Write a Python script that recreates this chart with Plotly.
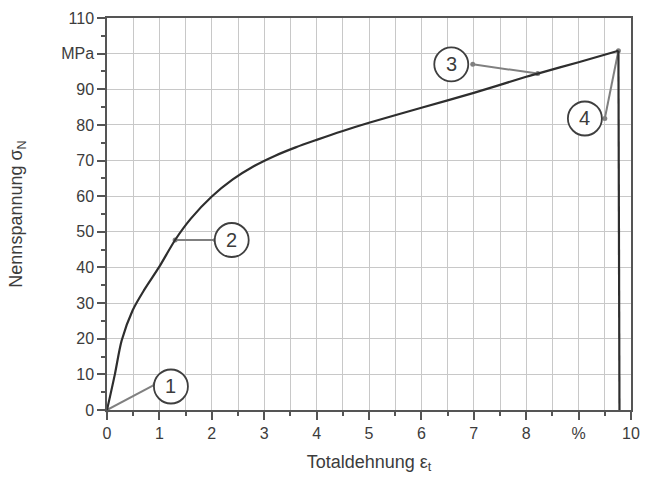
import plotly.graph_objects as go

# Nominal stress-strain curve (total strain in %, nominal stress in MPa);
# the last point is the fracture drop back to zero stress
strain = [0, 0.15, 0.28, 0.49, 0.71, 0.99, 1.30, 1.6, 2.0, 2.4, 2.8, 3.2, 3.6,
          4.0, 4.5, 5.0, 6.0, 7.0, 8.0, 8.22, 9.0, 9.76, 9.78]
stress = [0, 10, 19.5, 28, 33.7, 40, 47.7, 53.7, 59.9, 64.7, 68.4, 71.3, 73.7,
          75.8, 78.3, 80.6, 84.8, 89, 93.5, 94.4, 97.6, 100.8, 0]

# Numbered callouts: point on the curve -> end of leader line -> circle centre
callout_labels = ["1", "2", "3", "4"]
callout_point_x = [0.0, 1.30, 8.22, 9.76]
callout_point_y = [0.0, 47.7, 94.4, 100.8]
callout_end_x = [0.92, 2.07, 6.98, 9.50]
callout_end_y = [7.2, 47.7, 97.0, 81.8]
circle_x = [1.22, 2.38, 6.57, 9.12]
circle_y = [6.6, 47.7, 97.0, 81.8]

# Axis ticks
x_tickvals = [0, 1, 2, 3, 4, 5, 6, 7, 8, 9, 10]
x_ticktext = ["0", "1", "2", "3", "4", "5", "6", "7", "8", "%", "10"]
y_tickvals = [0, 10, 20, 30, 40, 50, 60, 70, 80, 90, 100, 110]
y_ticktext = ["0", "10", "20", "30", "40", "50", "60", "70", "80", "90", "MPa", "110"]

CURVE = "#2e2e2e"
LEADER = "#808080"
AXIS = "#555555"
GRID = "#c8c8c8"
TEXT = "#3c3c3c"
FONT = "Liberation Sans, Arial, sans-serif"

fig = go.Figure()

# leader lines with small dots at both ends
for i in range(len(callout_labels)):
    fig.add_trace(go.Scatter(
        x=[callout_point_x[i], callout_end_x[i]],
        y=[callout_point_y[i], callout_end_y[i]],
        mode="lines+markers",
        line=dict(color=LEADER, width=2),
        marker=dict(color=LEADER, size=5),
        hoverinfo="skip", showlegend=False, cliponaxis=False,
    ))

# smooth loading branch up to the maximum stress
fig.add_trace(go.Scatter(
    x=strain[:-1], y=stress[:-1], mode="lines",
    line=dict(color=CURVE, width=2.2, shape="spline", smoothing=0.8),
    showlegend=False,
))
# fracture: vertical drop after the maximum
fig.add_trace(go.Scatter(
    x=strain[-2:], y=stress[-2:], mode="lines",
    line=dict(color=CURVE, width=2.2),
    showlegend=False,
))

shapes = []
annotations = []
R = 17
for i, lab in enumerate(callout_labels):
    shapes.append(dict(
        type="circle", xref="x", yref="y",
        xsizemode="pixel", ysizemode="pixel",
        xanchor=circle_x[i], yanchor=circle_y[i],
        x0=-R, x1=R, y0=-R, y1=R,
        line=dict(color="#3f3f3f", width=1.8),
        fillcolor="white", layer="above",
    ))
    annotations.append(dict(
        x=circle_x[i], y=circle_y[i], xref="x", yref="y",
        text=lab, showarrow=False,
        font=dict(family=FONT, size=20, color=TEXT),
        xanchor="center", yanchor="middle",
    ))

fig.update_layout(
    width=649, height=480,
    margin=dict(l=107, r=9, t=18, b=70),
    paper_bgcolor="white", plot_bgcolor="white",
    font=dict(family=FONT, color=TEXT),
    shapes=shapes, annotations=annotations,
)

fig.update_xaxes(
    range=[0, 10], tickvals=x_tickvals, ticktext=x_ticktext,
    tickfont=dict(size=16, color=TEXT),
    ticks="outside", ticklen=8, tickwidth=1.5, tickcolor=AXIS,
    showline=True, linecolor=AXIS, linewidth=1.5, mirror=True,
    showgrid=True, gridcolor=GRID, gridwidth=1,
    minor=dict(dtick=0.5, ticks="outside", ticklen=4, tickcolor=AXIS,
               showgrid=True, gridcolor=GRID, gridwidth=1),
    zeroline=False,
    title=dict(text="Totaldehnung ε<sub>t</sub>",
               font=dict(size=18, color=TEXT), standoff=14),
)
fig.update_yaxes(
    range=[0, 110], tickvals=y_tickvals, ticktext=y_ticktext,
    tickfont=dict(size=16, color=TEXT),
    ticks="outside", ticklen=8, tickwidth=1.5, tickcolor=AXIS,
    showline=True, linecolor=AXIS, linewidth=1.5, mirror=True,
    showgrid=True, gridcolor=GRID, gridwidth=1,
    minor=dict(dtick=5, ticks="outside", ticklen=4, tickcolor=AXIS,
               showgrid=False),
    zeroline=False,
    title=dict(text="Nennspannung σ<sub>N</sub>",
               font=dict(size=18, color=TEXT), standoff=34),
)

fig.write_html("out.html")
